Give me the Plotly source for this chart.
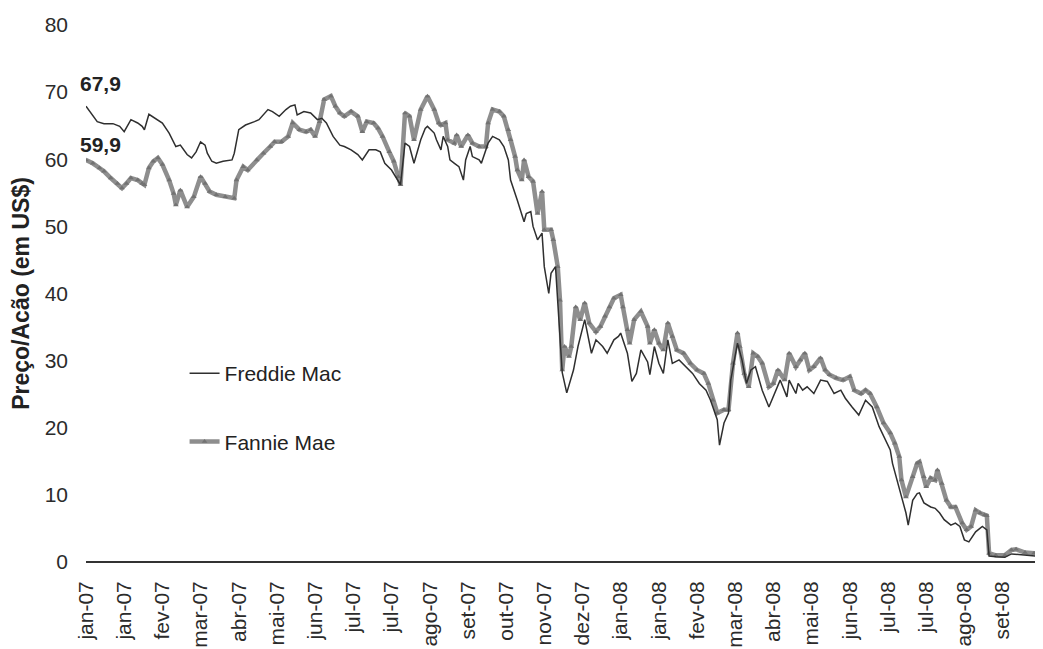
import plotly.graph_objects as go

# pregões (dias úteis desde 02/jan/2007) e preços
freddie_dias = [
    0, 3, 5, 8, 12, 15, 17, 20, 23, 25, 26, 28, 31, 34, 37, 40, 42, 45, 47, 49,
    51, 53, 54, 56, 58, 61, 65, 66, 68, 71, 75, 77, 81, 83, 86, 89, 91, 93, 94, 97,
    100, 103, 105, 107, 110, 113, 115, 118, 121, 123, 126, 129, 131, 133, 136, 138, 140, 142, 144, 146,
    149, 151, 152, 155, 156, 158, 159, 161, 162, 164, 166, 168, 169, 171, 172, 175, 176, 179, 181, 184,
    186, 188, 189, 192, 193, 195, 196, 198, 199, 201, 203, 204, 206, 207, 209, 210, 212, 214, 217, 219,
    222, 225, 227, 230, 232, 235, 237, 238, 241, 243, 245, 247, 250, 251, 253, 255, 257, 259, 261, 264,
    267, 270, 273, 276, 278, 281, 282, 284, 286, 287, 290, 292, 294, 296, 298, 301, 304, 307, 309, 312,
    313, 316, 317, 319, 321, 324, 327, 330, 333, 336, 338, 341, 344, 347, 350, 353, 356, 358, 359, 361,
    363, 365, 366, 368, 370, 371, 373, 376, 378, 380, 382, 385, 387, 389, 391, 393, 396, 398, 399, 401,
    402, 405, 409, 412, 416, 420, 426,
]
freddie_preco = [
    67.9, 66.6, 65.6, 65.3, 65.3, 64.9, 64.1, 65.9, 65.4, 64.9, 64.4, 66.7, 66.1, 65.4, 63.9, 61.9, 62.1, 60.7, 60.2, 61.1,
    62.6, 62.1, 60.9, 59.7, 59.4, 59.7, 59.9, 60.9, 64.4, 65.1, 65.6, 65.9, 67.4, 67.1, 66.4, 67.4, 67.9, 68.1, 66.6, 67.1,
    66.9, 65.9, 66.1, 65.4, 63.4, 62.1, 61.9, 61.4, 60.7, 59.9, 61.4, 61.4, 61.1, 59.4, 58.4, 57.4, 56.2, 62.4, 61.9, 59.4,
    62.9, 64.6, 64.9, 63.9, 62.9, 61.4, 63.4, 61.9, 59.9, 59.4, 58.9, 56.9, 59.9, 61.9, 60.4, 59.9, 59.4, 62.4, 63.4, 62.9,
    61.9, 59.9, 56.9, 53.9, 52.9, 50.7, 51.9, 52.2, 50.0, 48.0, 49.0, 44.0, 40.0, 43.0, 44.0, 39.0, 28.2, 25.2, 28.6, 32.1,
    36.1, 31.1, 33.1, 32.1, 31.1, 33.1, 33.6, 34.1, 31.1, 26.9, 28.1, 31.6, 29.8, 27.9, 32.1, 29.6, 28.1, 33.1, 29.6, 30.1,
    29.1, 28.1, 26.6, 25.6, 24.1, 21.2, 17.4, 20.7, 22.2, 27.1, 32.6, 30.1, 26.6, 28.6, 29.1, 25.6, 23.1, 25.6, 27.1, 24.6,
    27.1, 25.1, 26.6, 25.6, 26.1, 25.1, 27.1, 26.9, 25.1, 25.6, 24.4, 23.1, 21.9, 24.1, 23.1, 20.2, 18.2, 16.7, 14.7, 12.2,
    9.7, 7.3, 5.5, 9.2, 10.2, 10.3, 8.8, 8.2, 8.0, 7.3, 6.3, 5.5, 5.8, 5.3, 3.3, 3.0, 4.5, 5.0, 5.3, 4.8,
    0.9, 0.8, 0.7, 1.2, 1.1, 0.9, 0.8,
]

fannie_dias = [
    0, 3, 6, 8, 11, 14, 16, 18, 20, 23, 25, 26, 28, 30, 32, 34, 37, 39, 40, 42,
    45, 48, 51, 53, 55, 58, 62, 66, 67, 70, 72, 76, 79, 82, 84, 87, 90, 92, 95, 98,
    100, 102, 104, 106, 109, 111, 113, 115, 118, 121, 123, 125, 128, 130, 132, 135, 137, 139, 140, 142,
    144, 146, 149, 152, 155, 157, 158, 160, 161, 164, 165, 167, 170, 172, 175, 178, 179, 181, 184, 186,
    188, 189, 191, 192, 194, 195, 197, 199, 201, 203, 204, 207, 208, 210, 211, 212, 213, 215, 216, 218,
    220, 222, 224, 227, 229, 231, 233, 235, 238, 239, 241, 242, 244, 247, 250, 251, 253, 255, 257, 259,
    261, 263, 266, 269, 272, 275, 277, 279, 281, 284, 286, 288, 290, 291, 293, 295, 297, 299, 301, 304,
    306, 308, 311, 313, 316, 318, 320, 322, 324, 327, 329, 331, 334, 337, 340, 342, 345, 347, 349, 352,
    355, 358, 360, 362, 363, 365, 368, 370, 371, 373, 374, 376, 378, 379, 381, 383, 385, 387, 390, 392,
    394, 396, 398, 400, 401, 402, 405, 409, 412, 414, 418, 422, 426,
]
fannie_preco = [
    59.9, 59.4, 58.7, 58.2, 57.2, 56.4, 55.7, 56.4, 57.2, 56.9, 56.4, 56.2, 58.7, 59.7, 60.2, 59.2, 56.9, 54.9, 53.2, 55.4,
    52.9, 54.4, 57.4, 56.4, 55.2, 54.7, 54.4, 54.2, 56.9, 58.9, 58.4, 59.9, 60.9, 61.9, 62.6, 62.6, 63.4, 65.4, 64.4, 64.1,
    64.4, 63.4, 65.6, 68.9, 69.4, 67.9, 66.9, 66.4, 67.1, 66.4, 64.1, 65.6, 65.4, 64.6, 63.4, 61.1, 59.7, 57.4, 56.2, 66.9,
    66.4, 62.9, 67.4, 69.4, 67.4, 65.4, 65.1, 65.4, 62.9, 62.4, 63.6, 61.9, 63.6, 62.4, 61.9, 61.9, 65.4, 67.4, 67.1, 66.4,
    64.4, 62.9, 60.4, 58.4, 56.9, 59.9, 57.4, 56.7, 51.9, 55.2, 49.5, 49.5, 48.0, 44.0, 39.0, 28.6, 32.1, 30.6, 32.1, 38.0,
    36.1, 38.6, 35.6, 34.3, 35.1, 36.6, 38.0, 39.3, 39.8, 38.0, 34.6, 32.6, 36.1, 37.3, 35.1, 32.6, 34.6, 32.6, 31.6, 35.6,
    33.6, 31.6, 31.1, 29.6, 28.6, 28.1, 26.6, 24.1, 22.2, 22.7, 22.7, 29.6, 34.1, 32.1, 28.1, 26.1, 31.1, 30.6, 29.6, 26.1,
    26.6, 28.6, 27.1, 31.1, 29.1, 30.1, 31.1, 28.6, 29.1, 30.4, 28.6, 27.9, 27.4, 27.1, 27.6, 25.6, 25.1, 25.6, 25.1, 23.1,
    20.7, 19.2, 17.7, 15.7, 12.2, 9.7, 12.7, 14.7, 14.9, 12.7, 11.2, 12.5, 12.2, 13.7, 11.7, 9.2, 8.2, 8.2, 5.8, 4.8,
    5.3, 7.7, 7.3, 7.0, 6.9, 1.3, 1.0, 1.0, 1.8, 1.9, 1.4, 1.3, 1.2,
]

# rótulos do eixo x (um a cada 17 pregões)
rotulos_x = [
    "jan-07", "jan-07", "fev-07", "mar-07", "abr-07", "mai-07", "jun-07", "jul-07", "jul-07",
    "ago-07", "set-07", "out-07", "nov-07", "dez-07", "jan-08", "jan-08", "fev-08", "mar-08",
    "abr-08", "mai-08", "jun-08", "jul-08", "jul-08", "ago-08", "set-08",
]
passo_rotulo = 17

fonte = "Liberation Sans, Arial, sans-serif"

fig = go.Figure()

# Fannie Mae: linha grossa cinza com marcadores
fig.add_trace(
    go.Scatter(
        x=fannie_dias,
        y=fannie_preco,
        mode="lines+markers",
        name="Fannie Mae",
        line=dict(color="#8e8e8e", width=4.5),
        marker=dict(symbol="triangle-up", size=5, color="#727272"),
        legendgroup="fannie",
        legendrank=2,
    )
)

# Freddie Mac: linha fina escura
fig.add_trace(
    go.Scatter(
        x=freddie_dias,
        y=freddie_preco,
        mode="lines",
        name="Freddie Mac",
        line=dict(color="#2f2f2f", width=1.5),
        legendgroup="freddie",
        legendrank=1,
    )
)

# valores iniciais
fig.add_annotation(
    x=freddie_dias[0], y=freddie_preco[0], text="<b>67,9</b>",
    showarrow=False, xanchor="left", xshift=-8, yshift=23,
    font=dict(family=fonte, size=21, color="#222222"),
)
fig.add_annotation(
    x=fannie_dias[0], y=fannie_preco[0], text="<b>59,9</b>",
    showarrow=False, xanchor="left", xshift=-8, yshift=15,
    font=dict(family=fonte, size=21, color="#222222"),
)

fig.update_xaxes(
    range=[0, 426],
    tickmode="array",
    tickvals=[i * passo_rotulo for i in range(len(rotulos_x))],
    ticktext=rotulos_x,
    tickangle=-90,
    ticks="",
    ticklabelstandoff=14,
    showgrid=False,
    zeroline=False,
    showline=False,
    automargin=False,
    tickfont=dict(family=fonte, size=21, color="#2b2b2b"),
)
fig.update_yaxes(
    range=[0, 80],
    tickvals=[0, 10, 20, 30, 40, 50, 60, 70, 80],
    ticks="",
    ticklabelstandoff=17,
    showgrid=False,
    zeroline=True,
    zerolinecolor="#333333",
    zerolinewidth=1.5,
    showline=False,
    automargin=False,
    tickfont=dict(family=fonte, size=21, color="#2b2b2b"),
    title=dict(
        text="<b>Preço/Acão (em US$)</b>",
        font=dict(family=fonte, size=23, color="#222222"),
        standoff=12,
    ),
)

# a página tem 8 px de margem no corpo: figura 8 px menor em cada direção
fig.update_layout(
    width=1035,
    height=641,
    margin=dict(l=78, r=0, t=17, b=87),
    plot_bgcolor="white",
    paper_bgcolor="white",
    legend=dict(
        x=0.103,
        y=0.389,
        xanchor="left",
        yanchor="top",
        bgcolor="rgba(0,0,0,0)",
        tracegroupgap=38,
        font=dict(family=fonte, size=21, color="#222222"),
    ),
)

fig.write_html("out.html")
